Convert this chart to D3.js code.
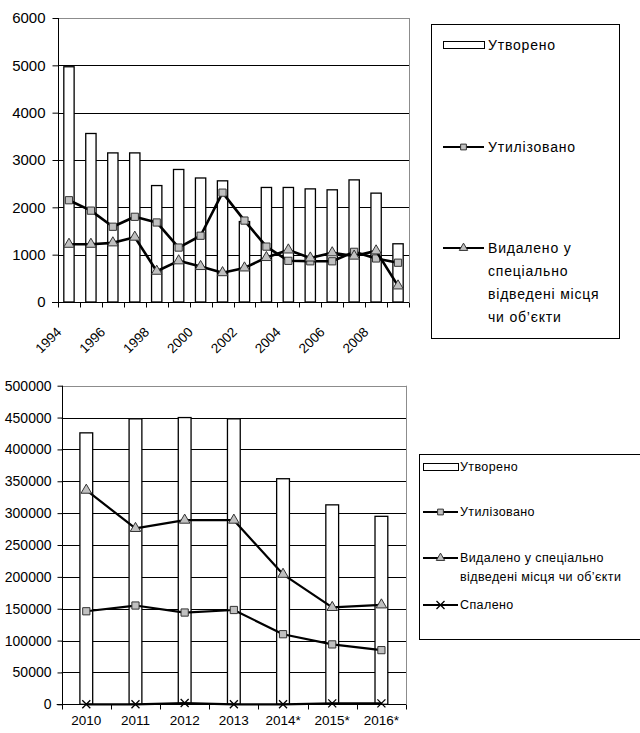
<!DOCTYPE html>
<html>
<head>
<meta charset="utf-8">
<script src="https://cdn.jsdelivr.net/npm/d3@7/dist/d3.min.js"></script>
<style>
  html, body { margin: 0; padding: 0; background: #fff; }
  svg { display: block; font-family: "Liberation Sans", Arial, sans-serif; }
</style>
</head>
<body>
<svg id="chart" width="640" height="733"></svg>
<script>
// ---- Period 1994–2009 ----
const years1 = ["1994","1995","1996","1997","1998","1999","2000","2001",
                "2002","2003","2004","2005","2006","2007","2008","2009"];
const yearLabels1 = ["1994","1996","1998","2000","2002","2004","2006","2008"];
const formed1   = [4970,3560,3150,3150,2460,2800,2620,2560,1700,2420,2420,2390,2370,2580,2300,1230];
const utilized1 = [2150,1930,1590,1800,1680,1150,1400,2310,1720,1170,870,860,860,1060,920,830];
const disposed1 = [1220,1220,1250,1370,650,870,750,620,720,940,1100,930,1040,970,1080,340];
const yTicks1 = [0,1000,2000,3000,4000,5000,6000];

// ---- Period 2010–2016 ----
const years2 = ["2010","2011","2012","2013","2014*","2015*","2016*"];
const formed2   = [426000,448000,450000,448000,354000,313000,295000];
const utilized2 = [146000,155000,144000,148000,110000,94000,85000];
const disposed2 = [336000,276000,289000,289000,204000,152000,156000];
const burned2   = [0,0,2000,0,0,1500,1500];
const yTicks2 = [0,50000,100000,150000,200000,250000,300000,350000,400000,450000,500000];

const legend1 = {
  formed: ["Утворено"],
  utilized: ["Утилізовано"],
  disposed: ["Видалено у", "спеціально", "відведені місця", "чи об’єкти"]
};
const legend2 = {
  formed: ["Утворено"],
  utilized: ["Утилізовано"],
  disposed: ["Видалено у спеціально", "відведені місця чи об’єкти"],
  burned: ["Спалено"]
};

const FONT = "Liberation Sans, Arial, sans-serif";
const svg = d3.select("#chart");
const markerFill = "#c0c0c0";

function drawChart(cfg) {
  const g = svg.append("g");
  const x = d3.scaleBand().domain(cfg.cats).range([cfg.x0, cfg.x1]).padding(0);
  const y = d3.scaleLinear().domain([0, cfg.yMax]).range([cfg.yb, cfg.yt]);

  // gridlines
  g.append("g").selectAll("line").data(cfg.yTicks.filter(v => v > 0)).join("line")
    .attr("x1", cfg.x0).attr("x2", cfg.x1)
    .attr("y1", d => Math.round(y(d)) + 0.5).attr("y2", d => Math.round(y(d)) + 0.5)
    .attr("stroke", d => d === cfg.yMax ? "#8c8c8c" : "#000")
    .attr("stroke-width", 1);
  // right border of plot area
  g.append("line")
    .attr("x1", Math.round(cfg.x1) + 0.5).attr("x2", Math.round(cfg.x1) + 0.5)
    .attr("y1", y(cfg.yMax)).attr("y2", y(0))
    .attr("stroke", "#8c8c8c");

  // bars
  const bw = x.bandwidth() * cfg.barFrac;
  g.append("g").selectAll("rect").data(cfg.formed).join("rect")
    .attr("x", (d, i) => x(cfg.cats[i]) + x.bandwidth() / 2 - bw / 2)
    .attr("y", d => y(d))
    .attr("width", bw)
    .attr("height", d => y(0) - y(d))
    .attr("fill", "#fff").attr("stroke", "#000").attr("stroke-width", 1.3);

  // y axis
  const yAxis = d3.axisLeft(y).tickValues(cfg.yTicks).tickSize(cfg.yTickLen).tickPadding(cfg.yPad)
    .tickFormat(d3.format("d"));
  const ya = g.append("g").attr("transform", `translate(${Math.round(cfg.x0) + 0.5},0)`).call(yAxis);
  ya.select(".domain").attr("stroke", "#000").attr("d", `M0,${y(cfg.yMax)}V${y(0)}`);
  ya.selectAll(".tick line").attr("stroke", "#000");
  ya.selectAll("text").attr("font-size", cfg.yFont).attr("fill", "#000")
    .attr("font-family", FONT);

  // x axis line and boundary ticks
  const yb = Math.round(y(0)) + 0.5;
  g.append("line").attr("x1", cfg.x0 - cfg.yTickLen).attr("x2", cfg.x1)
    .attr("y1", yb).attr("y2", yb).attr("stroke", "#000");
  const bounds = cfg.cats.map(c => x(c)).concat([cfg.x1]);
  g.append("g").selectAll("line").data(bounds).join("line")
    .attr("x1", d => Math.round(d) + 0.5).attr("x2", d => Math.round(d) + 0.5)
    .attr("y1", yb).attr("y2", yb + cfg.xTickLen).attr("stroke", "#000");

  // x labels
  const cx = c => x(c) + x.bandwidth() / 2;
  if (cfg.rotateLabels) {
    g.append("g").selectAll("text").data(cfg.xLabels).join("text")
      .attr("transform", d => `translate(${cx(d) - 10},${yb + 27}) rotate(-45)`)
      .attr("text-anchor", "end").attr("dy", "0.35em")
      .attr("font-family", FONT)
      .attr("font-size", cfg.xFont).text(d => d);
  } else {
    g.append("g").selectAll("text").data(cfg.xLabels).join("text")
      .attr("x", d => cx(d)).attr("y", yb + 20)
      .attr("text-anchor", "middle")
      .attr("font-family", FONT)
      .attr("font-size", cfg.xFont).text(d => d);
  }

  // line series
  const line = d3.line().x((d, i) => cx(cfg.cats[i])).y(d => y(d));
  cfg.series.forEach(s => {
    g.append("path").datum(s.values).attr("d", line)
      .attr("fill", "none").attr("stroke", "#000").attr("stroke-width", cfg.lineW)
      .attr("stroke-linejoin", "round");
    const m = g.append("g").selectAll("path").data(s.values).join("path")
      .attr("transform", (d, i) => `translate(${cx(cfg.cats[i])},${y(d)})`);
    styleMarker(m, s.marker, cfg.markerScale);
  });
}

function styleMarker(sel, type, k) {
  if (type === "square") {
    sel.attr("d", d3.symbol(d3.symbolSquare, 52 * k * k)())
      .attr("fill", markerFill).attr("stroke", "#333").attr("stroke-width", 1);
  } else if (type === "triangle") {
    sel.attr("d", d3.symbol(d3.symbolTriangle, 48 * k * k)())
      .attr("fill", markerFill).attr("stroke", "#333").attr("stroke-width", 1);
  } else if (type === "cross") {
    sel.attr("d", "M-4,-4L4,4M-4,4L4,-4")
      .attr("fill", "none").attr("stroke", "#000").attr("stroke-width", 1.3);
  }
}

function drawLegend(cfg) {
  const g = svg.append("g");
  g.append("rect").attr("x", cfg.x + 0.5).attr("y", cfg.y + 0.5)
    .attr("width", cfg.w).attr("height", cfg.h)
    .attr("fill", "#fff").attr("stroke", "#000");
  cfg.items.forEach(it => {
    const sx = cfg.symX, sw = cfg.symW, yy = it.y;
    if (it.type === "bar") {
      g.append("rect").attr("x", sx + 0.5).attr("y", yy - 3.5).attr("width", sw).attr("height", 7)
        .attr("fill", "#fff").attr("stroke", "#000");
    } else {
      g.append("line").attr("x1", sx).attr("x2", sx + sw).attr("y1", yy).attr("y2", yy)
        .attr("stroke", "#000").attr("stroke-width", 2);
      const m = g.append("path").attr("transform", `translate(${sx + sw / 2},${yy})`);
      styleMarker(m, it.type, 0.8);
    }
    it.lines.forEach((t, j) => {
      g.append("text").attr("x", cfg.textX).attr("y", yy + j * cfg.lh)
        .attr("dy", "0.35em").attr("font-size", cfg.font)
        .attr("font-family", FONT)
        .attr("letter-spacing", cfg.ls).text(t);
    });
  });
}

// top chart
drawChart({
  cats: years1, xLabels: yearLabels1, formed: formed1, yMax: 6000, yTicks: yTicks1,
  x0: 58, x1: 409, yt: 18, yb: 302, barFrac: 0.47,
  yTickLen: 6, yPad: 7, xTickLen: 5, yFont: 15, xFont: 13.5, rotateLabels: true,
  lineW: 2.6, markerScale: 1,
  series: [
    { values: utilized1, marker: "square" },
    { values: disposed1, marker: "triangle" }
  ]
});

// bottom chart
drawChart({
  cats: years2, xLabels: years2, formed: formed2, yMax: 500000, yTicks: yTicks2,
  x0: 61.7, x1: 406, yt: 385.7, yb: 704.3, barFrac: 0.26,
  yTickLen: 5, yPad: 6, xTickLen: 5, yFont: 14, xFont: 13.5, rotateLabels: false,
  lineW: 2.2, markerScale: 1,
  series: [
    { values: utilized2, marker: "square" },
    { values: disposed2, marker: "triangle" },
    { values: burned2, marker: "cross" }
  ]
});

drawLegend({
  x: 431, y: 24, w: 188, h: 314, symX: 443, symW: 41, textX: 488, font: 14, ls: 0.8, lh: 23,
  items: [
    { type: "bar", y: 45, lines: legend1.formed },
    { type: "square", y: 147, lines: legend1.utilized },
    { type: "triangle", y: 248, lines: legend1.disposed }
  ]
});

drawLegend({
  x: 419, y: 454, w: 222, h: 185, symX: 423, symW: 35, textX: 460, font: 12.5, ls: 0.4, lh: 18.5,
  items: [
    { type: "bar", y: 467, lines: legend2.formed },
    { type: "square", y: 512, lines: legend2.utilized },
    { type: "triangle", y: 558, lines: legend2.disposed },
    { type: "cross", y: 605, lines: legend2.burned }
  ]
});
</script>
</body>
</html>
